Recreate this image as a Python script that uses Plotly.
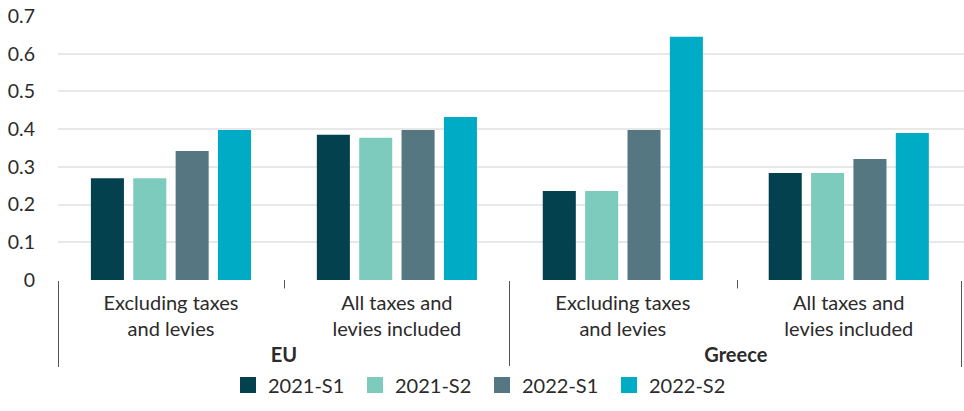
import plotly.graph_objects as go

# Unit electricity prices by half-year
regions = ["<b>EU</b>", "<b>EU</b>", "<b>Greece</b>", "<b>Greece</b>"]
price_types = [
    "Excluding taxes<br>and levies",
    "All taxes and<br>levies included",
    "Excluding taxes<br>and levies",
    "All taxes and<br>levies included",
]
periods = ["2021-S1", "2021-S2", "2022-S1", "2022-S2"]
values = {
    "2021-S1": [0.27, 0.385, 0.236, 0.284],
    "2021-S2": [0.27, 0.377, 0.236, 0.284],
    "2022-S1": [0.342, 0.398, 0.398, 0.321],
    "2022-S2": [0.398, 0.432, 0.645, 0.39],
}
colors = {
    "2021-S1": "#03414F",
    "2021-S2": "#7DCBBD",
    "2022-S1": "#547782",
    "2022-S2": "#00ABC6",
}
y_ticks = [0, 0.1, 0.2, 0.3, 0.4, 0.5, 0.6, 0.7]
y_tick_text = ["0", "0.1", "0.2", "0.3", "0.4", "0.5", "0.6", "0.7"]

FONT = "Lato"
TEXT = "#2b2b2b"
AXIS_GREY = "#555555"

fig = go.Figure()
for p in periods:
    fig.add_trace(go.Bar(
        x=[regions, price_types],
        y=values[p],
        name=p,
        marker=dict(color=colors[p], line=dict(width=0)),
        showlegend=False,
    ))

# Larger square swatches for the legend
for p in periods:
    fig.add_trace(go.Scatter(
        x=[None], y=[None], mode="markers", name=p,
        marker=dict(symbol="square", size=17, color=colors[p]),
        showlegend=True,
    ))

# Short boundary ticks between the two price types inside each region
for xf in (0.25, 0.75):
    fig.add_shape(
        type="line", xref="paper", yref="paper",
        x0=xf, x1=xf, y0=0, y1=-0.032,
        line=dict(color=AXIS_GREY, width=1),
    )

fig.update_layout(
    width=964,
    height=411,
    margin=dict(l=58, r=0, t=16, b=131),
    paper_bgcolor="white",
    plot_bgcolor="white",
    barmode="group",
    bargap=0.25,
    bargroupgap=0.22,
    font=dict(family=FONT, color=TEXT, size=18),
    legend=dict(
        orientation="h",
        xref="container", x=0.5, xanchor="center",
        yref="container", y=0.063, yanchor="middle",
        font=dict(family=FONT, size=20, color=TEXT),
        entrywidth=82,
    ),
    xaxis=dict(
        type="multicategory",
        range=[-0.5, 3.51],
        automargin=False,
        showgrid=False,
        zeroline=False,
        showline=False,
        ticks="outside",
        tickson="labels",
        ticklen=5,
        tickcolor="rgba(0,0,0,0)",
        tickwidth=1,
        showdividers=True,
        dividercolor=AXIS_GREY,
        dividerwidth=1,
        tickfont=dict(family=FONT, size=20, color=TEXT),
    ),
    yaxis=dict(
        range=[0, 0.7],
        automargin=False,
        tickvals=y_ticks,
        ticktext=y_tick_text,
        showgrid=True,
        gridcolor="#e8e8e8",
        gridwidth=1.5,
        zeroline=False,
        showline=False,
        ticks="",
        ticklabelstandoff=22,
        tickfont=dict(family=FONT, size=19.5, color=TEXT),
    ),
)

fig.write_html("out.html")
